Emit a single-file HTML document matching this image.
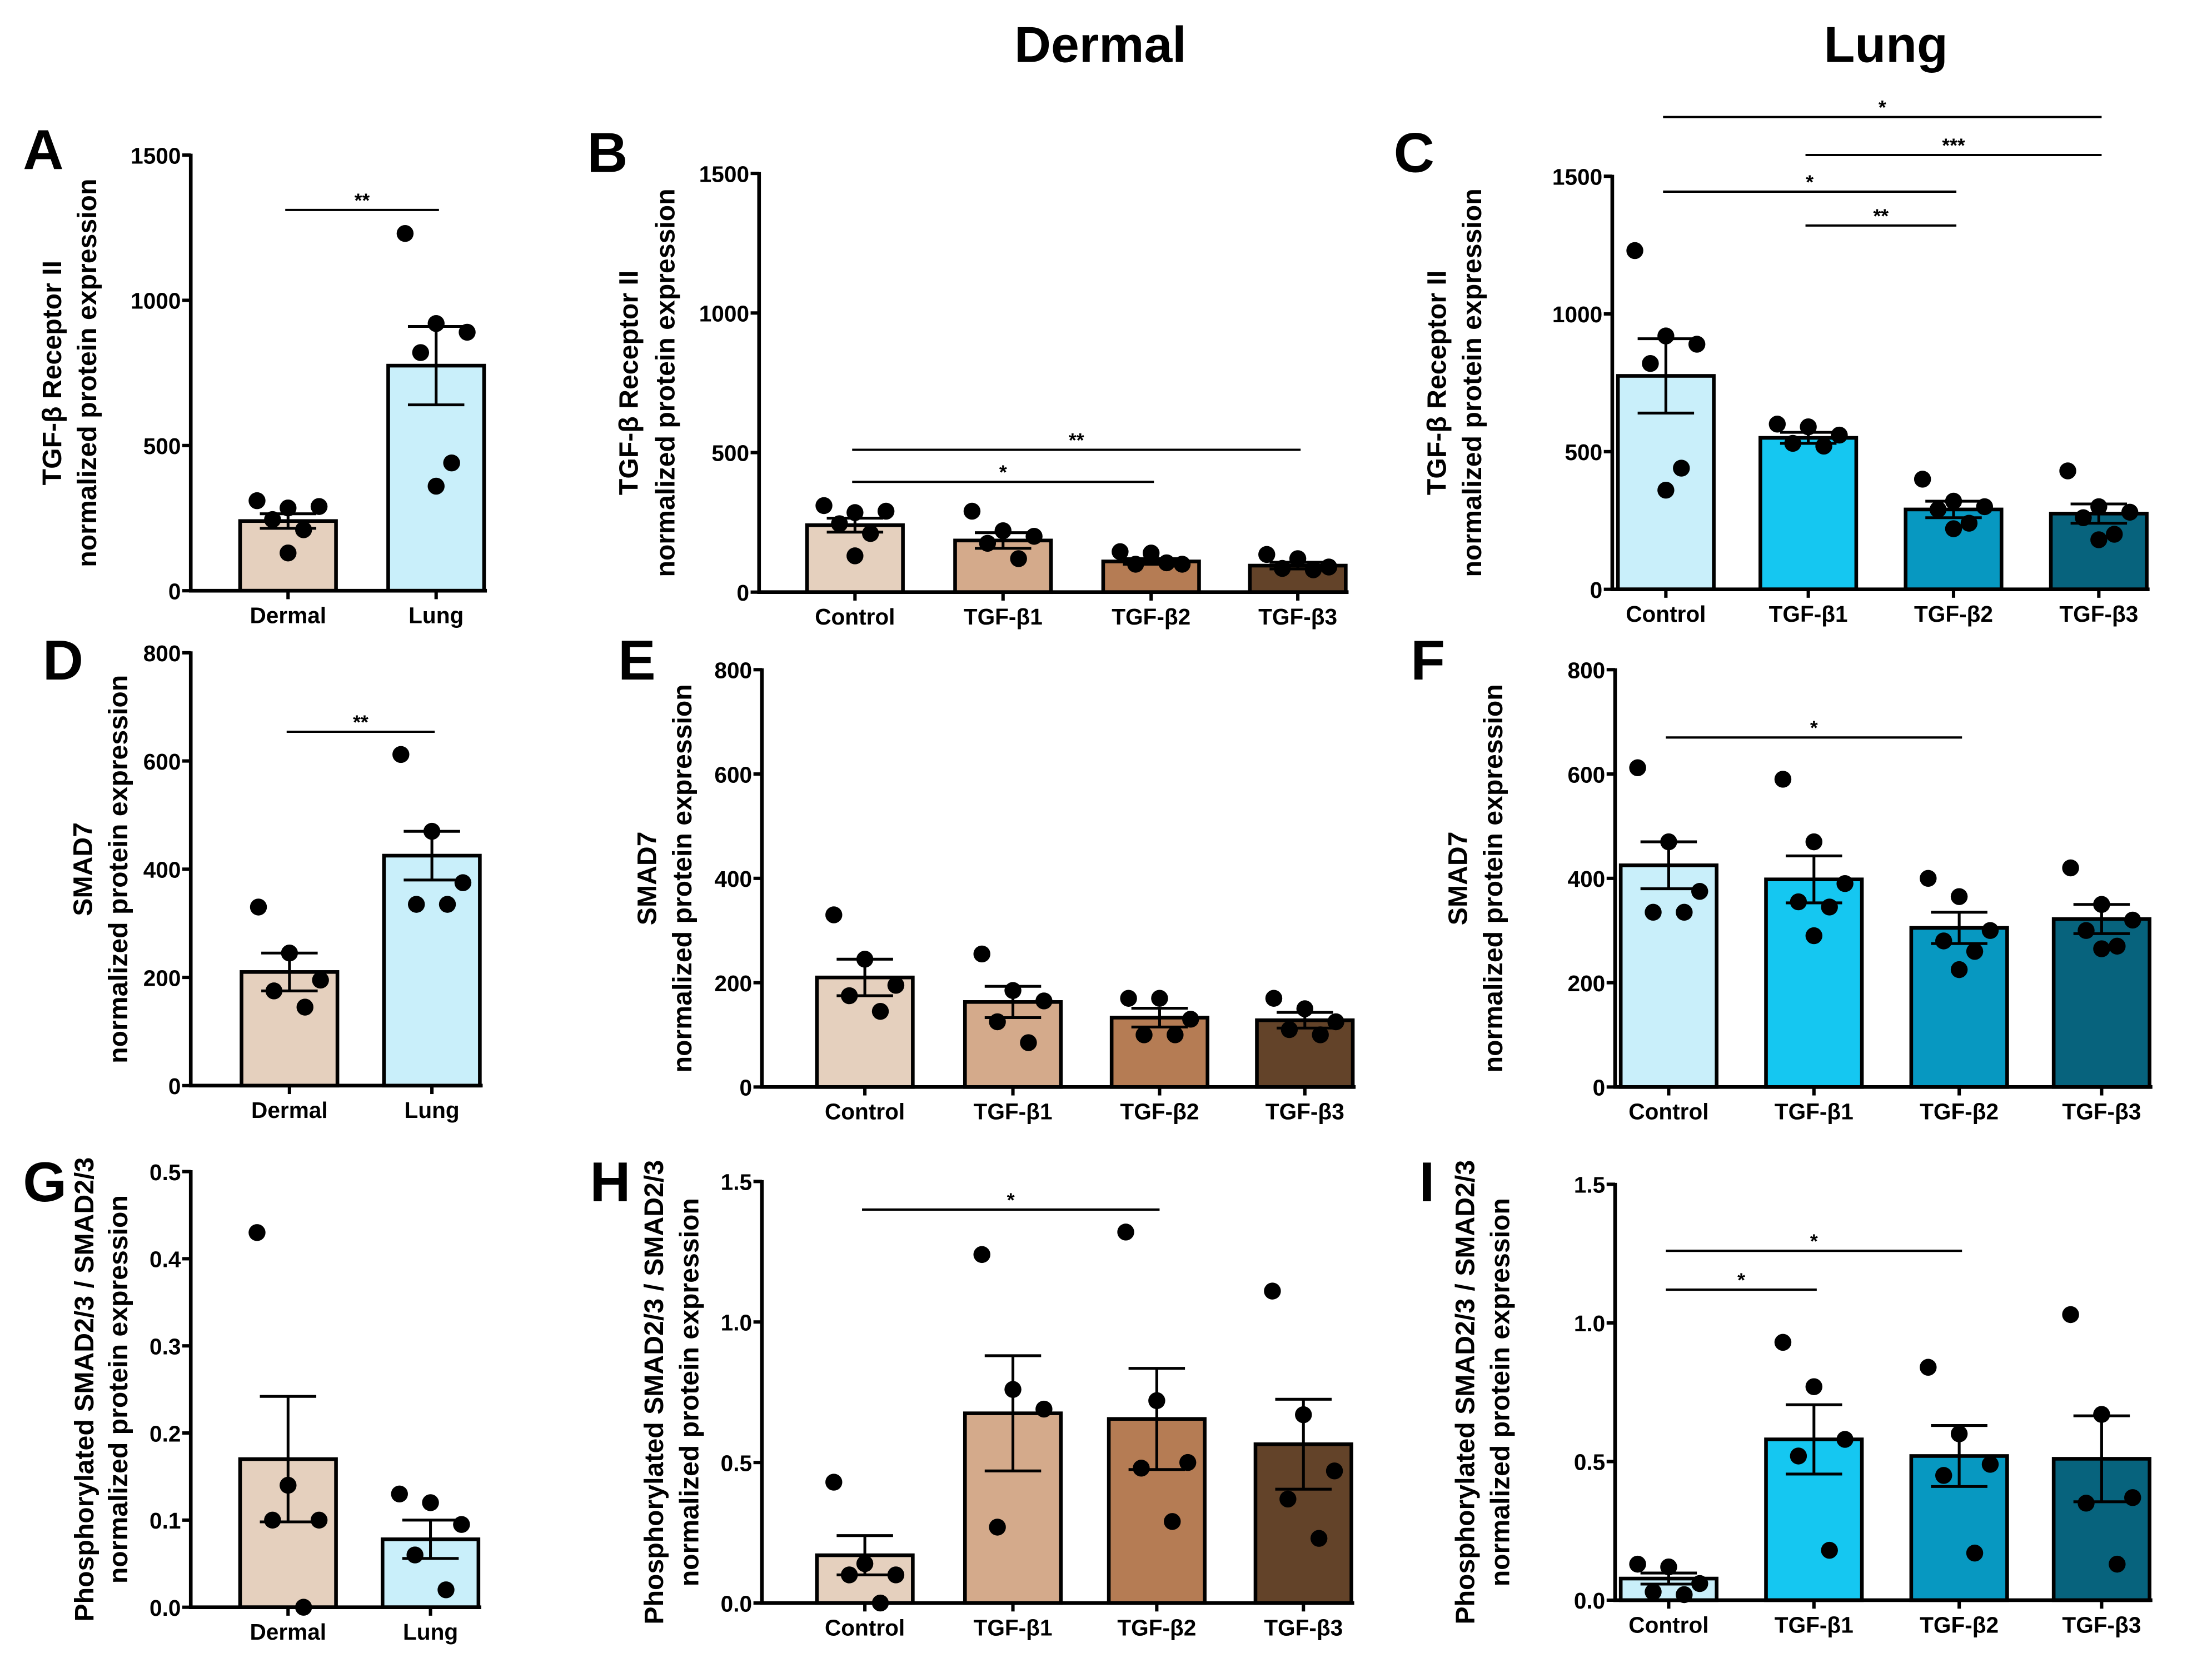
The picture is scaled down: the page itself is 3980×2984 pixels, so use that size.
<!DOCTYPE html>
<html><head><meta charset="utf-8"><style>
html,body{margin:0;padding:0;background:#fff}
svg{display:block}
text{font-family:"Liberation Sans",sans-serif;font-weight:bold;fill:#000}
</style></head><body>
<svg id="fig" width="3980" height="2984" viewBox="0 0 1568 1176" xmlns="http://www.w3.org/2000/svg">
<text x="780" y="44" font-size="36" text-anchor="middle">Dermal</text>
<text x="1337" y="44" font-size="36" text-anchor="middle">Lung</text>
</svg>
<script>
// ---- data ----
const catsAB = ["Dermal","Lung"];
const catsTx = ["Control","TGF-β1","TGF-β2","TGF-β3"];
const colDL = ["#e5d0be","#c9effa"];
const colDerm = ["#e5d0be","#d4aa8b","#b57c54","#634329"];
const colLung = ["#c9effa","#15c7f1","#0798c1","#07637d"];

const meanA = [240, 775];  const semA = [25, 135];
const ptsA = [[310,285,290,245,210,130],[1230,920,890,820,440,360]];
const meanB = [240,185,110,95]; const semB = [25,28,10,12];
const ptsB = [[310,285,290,245,210,130],[290,220,200,175,120],[145,140,100,100,105],[135,120,90,85,80]];
const meanC = [775,550,290,275]; const semC = [135,20,30,35];
const ptsC = [[1230,920,890,820,440,360],[600,590,560,530,520],[400,320,300,290,240,220],[430,300,280,260,200,180]];
const meanD = [210,425]; const semD = [35,45];
const ptsD = [[330,245,195,175,145],[612,470,375,335,335]];
const meanE = [210,163,133,128]; const semE = [35,30,18,15];
const ptsE = [[330,245,195,175,145],[255,185,165,125,85],[170,170,130,100,100],[170,150,125,110,100]];
const meanF = [425,398,305,322]; const semF = [45,45,30,28];
const ptsF = [[612,470,375,335,335],[590,470,390,355,345,290],[400,365,300,280,260,225],[420,350,320,300,270,265]];
const meanG = [0.17,0.078]; const semG = [0.072,0.022];
const ptsG = [[0.43,0.14,0.1,0.1,0.0],[0.13,0.12,0.095,0.06,0.02]];
const meanH = [0.17,0.675,0.655,0.565]; const semH = [0.07,0.205,0.18,0.16];
const ptsH = [[0.43,0.14,0.1,0.1,0.0],[1.24,0.76,0.69,0.27],[1.32,0.72,0.5,0.48,0.29],[1.11,0.67,0.47,0.37,0.23]];
const meanI = [0.078,0.58,0.52,0.51]; const semI = [0.02,0.125,0.11,0.155];
const ptsI = [[0.13,0.12,0.06,0.03,0.02],[0.93,0.77,0.58,0.52,0.18],[0.84,0.6,0.49,0.45,0.17],[1.03,0.67,0.37,0.35,0.13]];

const ticksR = [0,500,1000,1500];
const ticksS = [0,200,400,600,800];
const ticksG = [0,0.1,0.2,0.3,0.4,0.5];
const ticksP = [0,0.5,1.0,1.5];
const tickLabR = ["0","500","1000","1500"];
const tickLabS = ["0","200","400","600","800"];
const tickLabG = ["0.0","0.1","0.2","0.3","0.4","0.5"];
const tickLabP = ["0.0","0.5","1.0","1.5"];

const sigA = [[0,1,1311,"**"]];
const sigB = [[0,3,510,"**"],[0,2,395,"*"]];
const sigC = [[0,3,1715,"*"],[1,3,1577,"***"],[0,2,1444,"*"],[1,2,1321,"**"]];
const sigD = [[0,1,654,"**"]];
const sigF = [[0,2,670,"*"]];
const sigH = [[0,2,1.40,"*"]];
const sigI = [[0,2,1.26,"*"],[0,1,1.12,"*"]];

const T1R="TGF-β Receptor II", T1S="SMAD7", T1P="Phosphorylated SMAD2/3 / SMAD2/3", T2="normalized protein expression";

const svg = document.getElementById('fig');
const NS = "http://www.w3.org/2000/svg";
function mk(tag, attrs, parent){const e=document.createElementNS(NS,tag);for(const k in attrs)e.setAttribute(k,attrs[k]);(parent||svg).appendChild(e);return e;}
const jit=[-22,0,22,-11,11,0];

function panel(p){
  const g = mk('g',{});
  
  
  const ymax=p.ticks[p.ticks.length-1];
  const y = v => p.y0 - (v/ymax)*(p.y0-p.yTop);
  const bw=68;
  p.cx.forEach((cx,i)=>{
    const r=mk('rect',{x:cx-bw/2,y:y(p.mean[i]),width:bw,height:p.y0-y(p.mean[i]),fill:p.col[i],stroke:'#000','stroke-width':2.6},g);
    
    
  });
  p.cx.forEach((cx,i)=>{
    const hi=y(p.mean[i]+p.sem[i]), lo=y(p.mean[i]-p.sem[i]);
    const e=mk('path',{d:`M${cx},${hi}V${lo}M${cx-20},${hi}H${cx+20}M${cx-20},${lo}H${cx+20}`,stroke:'#000','stroke-width':2,fill:'none'},g);
    
    
  });
  p.cx.forEach((cx,i)=>{
    p.pts[i].forEach((v,j)=>{
      const c=mk('circle',{cx:cx+jit[j%6],cy:y(v),r:6,fill:'#000'},g);
      
      
    });
  });
  const xr = p.cx[p.cx.length-1]+bw/2+2;
  const ax=mk('path',{d:`M${p.ax},${p.yTop-1}V${p.y0}H${xr}`,stroke:'#000','stroke-width':2.6,fill:'none'},g);
  
  
  p.ticks.forEach((t,i)=>{
    mk('line',{x1:p.ax-6,x2:p.ax,y1:y(t),y2:y(t),stroke:'#000','stroke-width':2.4},g);
    const tl=mk('text',{x:p.ax-7,y:y(t)+6,'font-size':16,'text-anchor':'end'},g);
    tl.textContent=p.tickLab[i];
    
    
  });
  p.cx.forEach((cx,i)=>{
    mk('line',{x1:cx,x2:cx,y1:p.y0,y2:p.y0+6,stroke:'#000','stroke-width':2.4},g);
    const cl=mk('text',{x:cx,y:p.y0+23,'font-size':16,'text-anchor':'middle'},g);
    cl.textContent=p.cats[i];
    
    
  });
  const my=(p.y0+p.yTop)/2;
  [[p.t1,p.tx1],[T2,p.tx2]].forEach(([txt,xo],k)=>{
    const tt=mk('text',{x:p.ax+xo,y:my,'font-size':19,'text-anchor':'middle',transform:`rotate(-90 ${p.ax+xo} ${my})`},g);
    tt.textContent=txt;
    
    
  });
  p.sig.forEach(([a,b,v,s])=>{
    const yy=y(v);
    const l=mk('line',{x1:p.cx[a]-2,x2:p.cx[b]+2,y1:yy,y2:yy,stroke:'#000','stroke-width':1.6},g);
    
    
    const st=mk('text',{x:(p.cx[a]+p.cx[b])/2,y:yy-2,'font-size':14,'text-anchor':'middle'},g);
    st.textContent=s;
    
    
  });
  const L=mk('text',{x:p.lx,y:p.ly,'font-size':40},g);
  L.textContent=p.letter;
  
  
}

panel({letter:'A',lx:16,ly:120,ax:135,yTop:110,y0:419,ticks:ticksR,tickLab:tickLabR,cx:[204,309],cats:catsAB,col:colDL,mean:meanA,sem:semA,pts:ptsA,sig:sigA,t1:T1R,tx1:-92,tx2:-67});
panel({letter:'B',lx:416,ly:122,ax:538,yTop:123,y0:420,ticks:ticksR,tickLab:tickLabR,cx:[606,711,816,920],cats:catsTx,col:colDerm,mean:meanB,sem:semB,pts:ptsB,sig:sigB,t1:T1R,tx1:-86,tx2:-60});
panel({letter:'C',lx:988,ly:122,ax:1143,yTop:125,y0:418,ticks:ticksR,tickLab:tickLabR,cx:[1181,1282,1385,1488],cats:catsTx,col:colLung,mean:meanC,sem:semC,pts:ptsC,sig:sigC,t1:T1R,tx1:-118,tx2:-93});
panel({letter:'D',lx:30,ly:482,ax:135,yTop:463,y0:770,ticks:ticksS,tickLab:tickLabS,cx:[205,306],cats:catsAB,col:colDL,mean:meanD,sem:semD,pts:ptsD,sig:sigD,t1:T1S,tx1:-70,tx2:-45});
panel({letter:'E',lx:438,ly:482,ax:540,yTop:475,y0:771,ticks:ticksS,tickLab:tickLabS,cx:[613,718,822,925],cats:catsTx,col:colDerm,mean:meanE,sem:semE,pts:ptsE,sig:[],t1:T1S,tx1:-75,tx2:-50});
panel({letter:'F',lx:1000,ly:482,ax:1145,yTop:475,y0:771,ticks:ticksS,tickLab:tickLabS,cx:[1183,1286,1389,1490],cats:catsTx,col:colLung,mean:meanF,sem:semF,pts:ptsF,sig:sigF,t1:T1S,tx1:-105,tx2:-80});
panel({letter:'G',lx:16,ly:852,ax:135,yTop:831,y0:1140,ticks:ticksG,tickLab:tickLabG,cx:[204,305],cats:catsAB,col:colDL,mean:meanG,sem:semG,pts:ptsG,sig:[],t1:T1P,tx1:-69,tx2:-45});
panel({letter:'H',lx:418,ly:852,ax:540,yTop:838,y0:1137,ticks:ticksP,tickLab:tickLabP,cx:[613,718,820,924],cats:catsTx,col:colDerm,mean:meanH,sem:semH,pts:ptsH,sig:sigH,t1:T1P,tx1:-70,tx2:-45});
panel({letter:'I',lx:1006,ly:852,ax:1145,yTop:840,y0:1135,ticks:ticksP,tickLab:tickLabP,cx:[1183,1286,1389,1490],cats:catsTx,col:colLung,mean:meanI,sem:semI,pts:ptsI,sig:sigI,t1:T1P,tx1:-100,tx2:-75});
</script>
</body></html>
